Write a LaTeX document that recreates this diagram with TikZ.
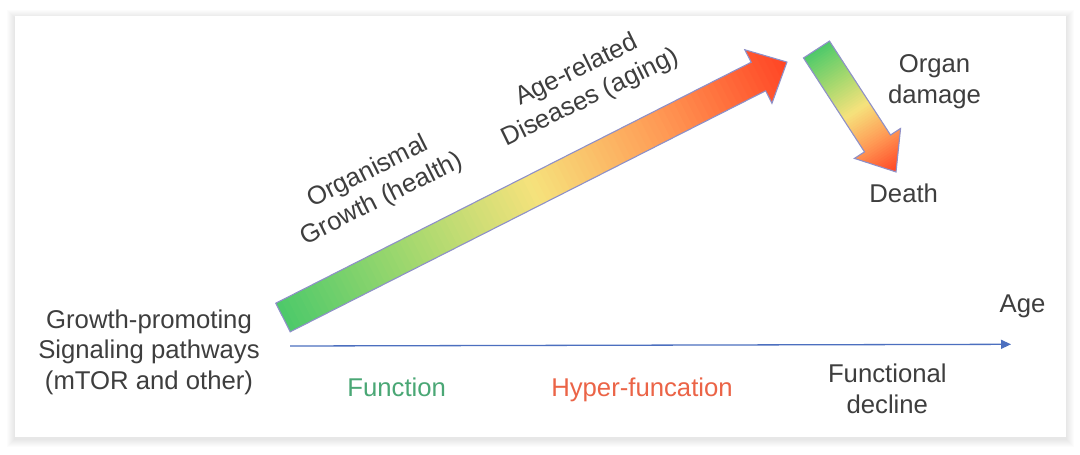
\documentclass[tikz,border=0pt]{standalone}
\usepackage{fontspec}
\setmainfont{Liberation Sans}
\usetikzlibrary{arrows.meta}
\definecolor{tgray}{HTML}{3E3E3E}
\definecolor{fgreen}{HTML}{4AA775}
\definecolor{fred}{HTML}{EB6447}
\definecolor{axisblue}{HTML}{4C6FBF}
\definecolor{arrowedge}{HTML}{8E90C8}
\definecolor{gA}{HTML}{4CC96A}
\definecolor{gB}{HTML}{A2D86E}
\definecolor{gC}{HTML}{F6E27C}
\definecolor{gD}{HTML}{FF9A55}
\definecolor{gE}{HTML}{FF4424}
\newcommand\gradmix[1]{%
  \pgfmathsetmacro\gradf{#1}%
  \ifdim\gradf pt<0.25pt
    \pgfmathsetmacro\gradp{100*(0.25-\gradf)/0.25}\colorlet{gc}{gA!\gradp!gB}%
  \else\ifdim\gradf pt<0.5pt
    \pgfmathsetmacro\gradp{100*(0.5-\gradf)/0.25}\colorlet{gc}{gB!\gradp!gC}%
  \else\ifdim\gradf pt<0.75pt
    \pgfmathsetmacro\gradp{100*(0.75-\gradf)/0.25}\colorlet{gc}{gC!\gradp!gD}%
  \else
    \pgfmathsetmacro\gradp{100*(1-\gradf)/0.25}\colorlet{gc}{gD!\gradp!gE}%
  \fi\fi\fi}
\begin{document}
\begin{tikzpicture}[x=1pt,y=-1pt,
  txt/.style={font=\fontsize{25.7}{30.5}\selectfont, inner sep=0pt, text=tgray},
  outl/.style={draw=arrowedge, line width=1.1pt, line join=miter},
  axisline/.style={draw=axisblue, line width=1.3pt, -{Triangle[length=10pt,width=9pt]}}]
\useasboundingbox (0,0) rectangle (1080,455);
\fill[white] (0,0) rectangle (1080,455);
% card shadow
\foreach \k in {1,...,8}{
  \fill[black, opacity=0.013] (15-\k,16-\k+2) rectangle (1066+\k,437+\k+2);
}
\fill[white] (15,16) rectangle (1066,437);

% big arrow
\begin{scope}[shift={(283,317.5)}, rotate=26.88]
  \begin{scope}
    \clip (0,-16) -- (533,-16) -- (533,-30) -- (565,0) -- (533,30) -- (533,16) -- (0,16) -- cycle;
    \foreach \i in {0,...,89}{
      \pgfmathsetmacro\sa{\i/90*565}
      \pgfmathsetmacro\sb{\sa+6.3+1}
      \gradmix{(\i+0.5)/90}
      \fill[gc] (\sa,-40) rectangle (\sb,40);
    }
  \end{scope}
  \draw[outl] (0,-16) -- (533,-16) -- (533,-30) -- (565,0) -- (533,30) -- (533,16) -- (0,16) -- cycle;
\end{scope}

% small arrow
\begin{scope}[shift={(816.5,49.5)}, rotate=-57.0]
  \begin{scope}
    \clip (0,-15.5) -- (112,-15.5) -- (112,-27.5) -- (146,0) -- (112,27.5) -- (112,15.5) -- (0,15.5) -- cycle;
    \foreach \i in {0,...,59}{
      \pgfmathsetmacro\sa{\i/60*146}
      \pgfmathsetmacro\sb{\sa+2.44+1}
      \gradmix{(\i+0.5)/60}
      \fill[gc] (\sa,-40) rectangle (\sb,40);
    }
  \end{scope}
  \draw[outl] (0,-15.5) -- (112,-15.5) -- (112,-27.5) -- (146,0) -- (112,27.5) -- (112,15.5) -- (0,15.5) -- cycle;
\end{scope}

% axis
\coordinate (ax0) at (290,346);
\coordinate (ax1) at (1011,344.3);
\draw[axisline] (ax0) -- (ax1);

% texts
\node[txt, align=center] (signal) at (149,352.1) {Growth-promoting\\Signaling pathways\\(mTOR and other)};
\node[txt, anchor=base, text=fgreen] (function) at (396.7,396.7) {Function};
\node[txt, anchor=base, text=fred] (hyper) at (642,396.7) {Hyper-funcation};
\node[txt, align=center] (decline) at (887.3,388.6) {Functional\\decline};
\node[txt, anchor=base] (age) at (1022.5,312.3) {Age};
\node[txt, anchor=base] (death) at (903.7,202.7) {Death};
\node[txt, align=center] (organ) at (934.5,81.6) {Organ\\damage};
\node[txt, align=center, rotate=26.5] (growth) at (375,186) {Organismal\\Growth (health)};
\node[txt, align=center, rotate=26] (disease) at (583.5,84.5) {Age-related\\Diseases (aging)};
\end{tikzpicture}
\end{document}
